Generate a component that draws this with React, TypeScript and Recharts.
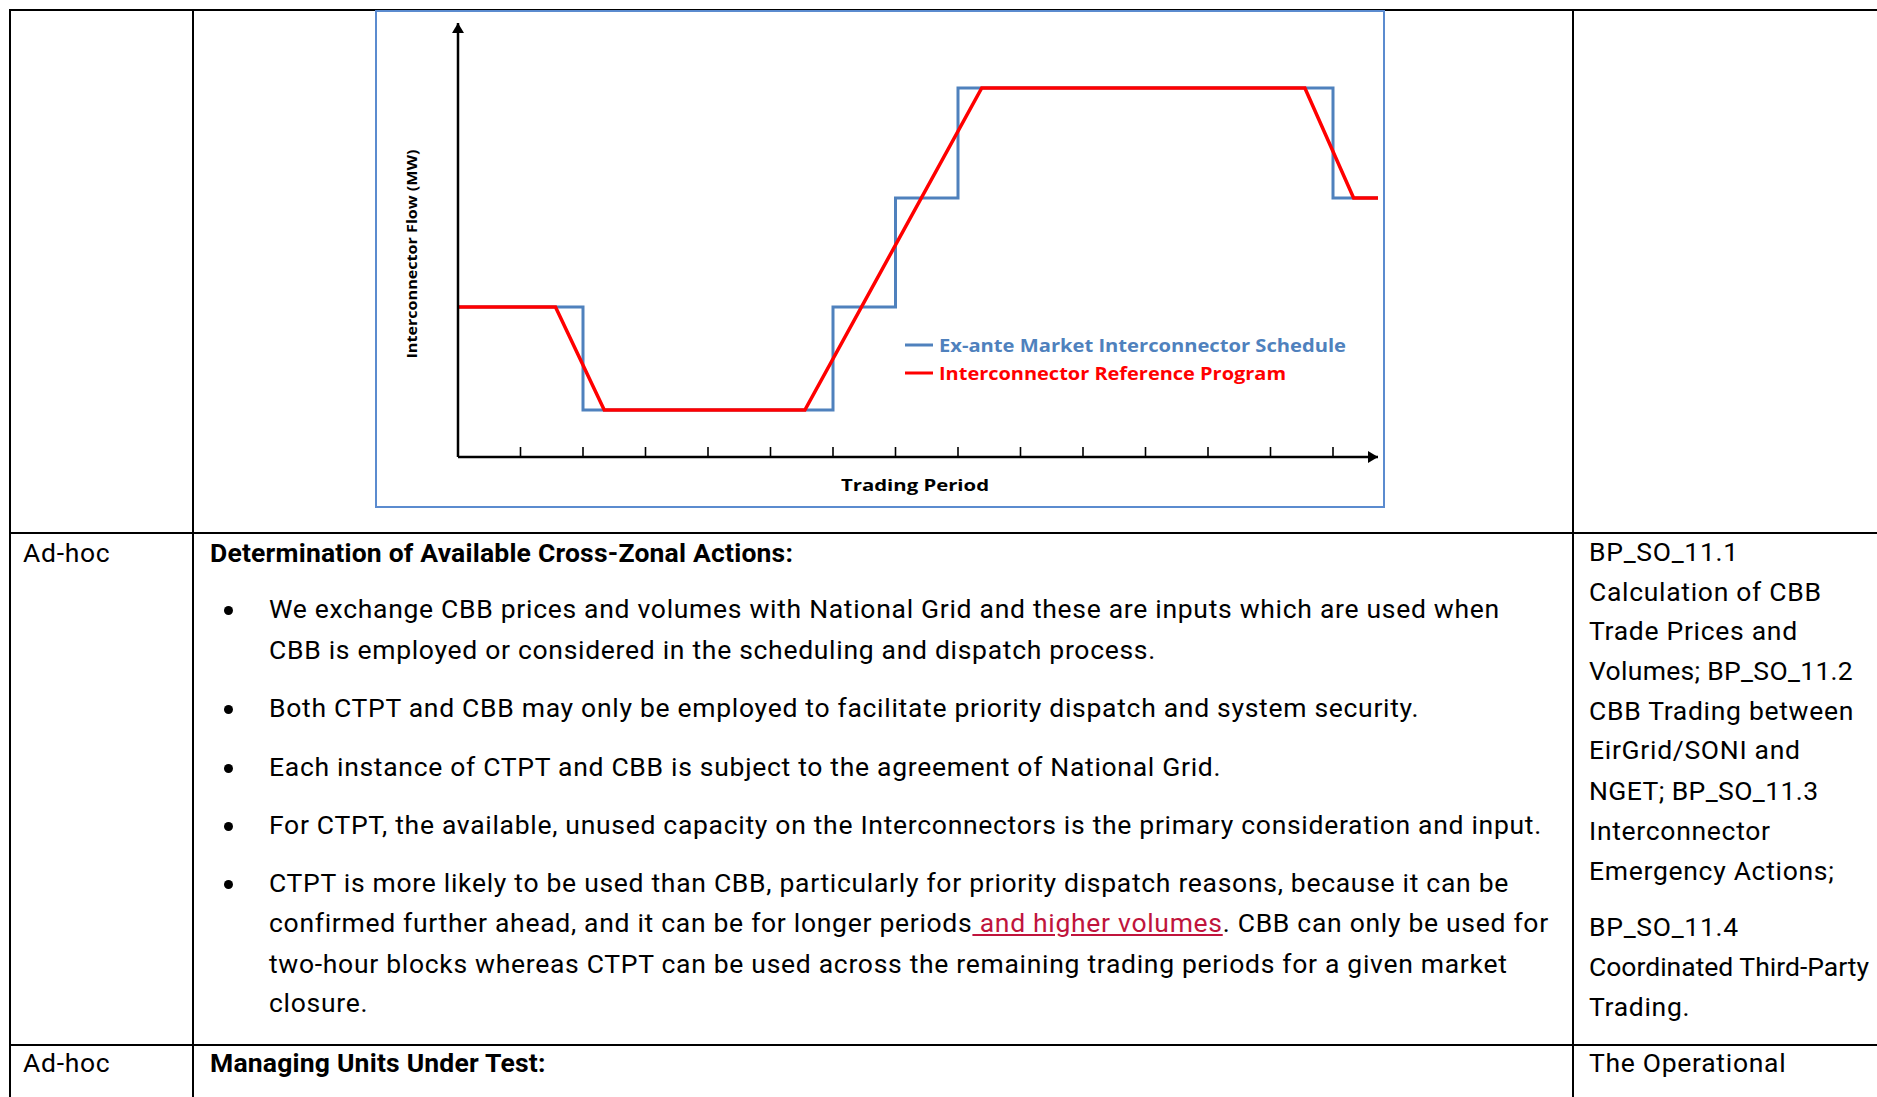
import React from "react";
import { LineChart, Line, XAxis, YAxis, Legend } from "recharts";

// trading period positions (in tick units) and flow levels
const scheduleX = [0, 2, 6, 7, 8, 14, 14.72];
const scheduleMW = [150, 47, 150, 259, 369, 259, 259];
const referenceX = [0, 1.56, 2.34, 5.55, 8.38, 13.55, 14.33, 14.72];
const referenceMW = [150, 150, 47, 47, 369, 369, 259, 259];
const periodTicks = [1, 2, 3, 4, 5, 6, 7, 8, 9, 10, 11, 12, 13, 14];
const seriesNames = [
  "Ex-ante Market Interconnector Schedule",
  "Interconnector Reference Program",
];

const scheduleData = scheduleX.map((p, i) => ({ period: p, mw: scheduleMW[i] }));
const referenceData = referenceX.map((p, i) => ({ period: p, mw: referenceMW[i] }));

const chartFont = "'Open Sans', sans-serif";
const legendWidths = [407, 347];

const renderUpTick = (props: any) => {
  const { x, y } = props;
  return <line x1={x} x2={x} y1={y} y2={y - 10} stroke="#000" strokeWidth={1.6} />;
};

const renderXLabel = (props: any) => {
  const { x, y, width } = props.viewBox;
  return (
    <text
      x={x + width / 2 - 3}
      y={y + 28}
      textAnchor="middle"
      dominantBaseline="central"
      fontFamily={chartFont}
      fontWeight={700}
      fontSize={16}
      textLength={148}
      lengthAdjust="spacingAndGlyphs"
      fill="#000"
    >
      Trading Period
    </text>
  );
};

const renderYLabel = (props: any) => {
  const { x, y, height } = props.viewBox;
  const cx = x + 34;
  const cy = y + height / 2 + 14;
  return (
    <text
      x={cx}
      y={cy}
      transform={`rotate(-90, ${cx}, ${cy})`}
      textAnchor="middle"
      dominantBaseline="central"
      fontFamily={chartFont}
      fontWeight={700}
      fontSize={15}
      textLength={209}
      lengthAdjust="spacingAndGlyphs"
      fill="#000"
    >
      Interconnector Flow (MW)
    </text>
  );
};

const renderLegend = (props: any) => {
  const payload = props.payload || [];
  return (
    <svg width={480} height={64} style={{ display: "block" }}>
      {payload.map((entry: any, i: number) => (
        <g key={entry.value}>
          <line x1={8} x2={36} y1={11 + i * 28} y2={11 + i * 28} stroke={entry.color} strokeWidth={3} />
          <text
            x={42}
            y={11 + i * 28}
            dominantBaseline="central"
            fontFamily={chartFont}
            fontWeight={700}
            fontSize={17}
            textLength={legendWidths[i]}
            lengthAdjust="spacingAndGlyphs"
            fill={entry.color}
          >
            {entry.value}
          </text>
        </g>
      ))}
    </svg>
  );
};

function FlowChart() {
  return (
    <div
      style={{
        position: "absolute",
        left: 375,
        top: 10,
        width: 1010,
        height: 498,
        boxSizing: "border-box",
        border: "2px solid #5b8bcf",
        background: "#fff",
      }}
    >
      <LineChart width={1006} height={494} margin={{ top: 11, right: 5, bottom: 0, left: 0 }}>
        <defs>
          <marker
            id="axisArrow"
            viewBox="0 0 10 12"
            refX={10}
            refY={6}
            markerWidth={10}
            markerHeight={12}
            markerUnits="userSpaceOnUse"
            orient="auto-start-reverse"
          >
            <path d="M0,0 L10,6 L0,12 z" fill="#000" />
          </marker>
        </defs>
        <XAxis
          dataKey="period"
          type="number"
          domain={[0, 14.72]}
          ticks={periodTicks}
          interval={0}
          tickLine={false}
          tickSize={0}
          tickMargin={0}
          tick={renderUpTick}
          height={49}
          axisLine={{ stroke: "#000", strokeWidth: 2.5, markerEnd: "url(#axisArrow)" }}
          label={renderXLabel}
        />
        <YAxis
          type="number"
          domain={[0, 434]}
          tick={false}
          tickLine={false}
          width={81}
          axisLine={{ stroke: "#000", strokeWidth: 2.5, markerStart: "url(#axisArrow)" }}
          label={renderYLabel}
        />
        <Legend
          layout="vertical"
          align="center"
          verticalAlign="middle"
          wrapperStyle={{ left: 520, top: 322, width: 480, height: 64 }}
          content={renderLegend}
        />
        <Line
          data={scheduleData}
          dataKey="mw"
          name={seriesNames[0]}
          type="stepAfter"
          stroke="#4f81bd"
          strokeWidth={3}
          dot={false}
          activeDot={false}
          isAnimationActive={false}
        />
        <Line
          data={referenceData}
          dataKey="mw"
          name={seriesNames[1]}
          type="linear"
          stroke="#ff0000"
          strokeWidth={3.5}
          dot={false}
          activeDot={false}
          isAnimationActive={false}
        />
      </LineChart>
    </div>
  );
}

const textFont = "Roboto, 'Liberation Sans', sans-serif";
const FS = 26.5;
const LH = 36;

function TextLine({
  x,
  cy,
  children,
  bold,
  spacing,
}: {
  x: number;
  cy: number;
  children: React.ReactNode;
  bold?: boolean;
  spacing?: number;
}) {
  return (
    <div
      style={{
        position: "absolute",
        left: x,
        top: cy - LH / 2,
        height: LH,
        lineHeight: `${LH}px`,
        fontSize: FS,
        fontWeight: bold ? 700 : 400,
        letterSpacing: spacing ?? (bold ? 0.2 : 0.7),
        whiteSpace: "nowrap",
        color: "#000",
      }}
    >
      {children}
    </div>
  );
}

function Bullet({ cy }: { cy: number }) {
  return (
    <div
      style={{
        position: "absolute",
        left: 223.5,
        top: cy - 4.5,
        width: 9,
        height: 9,
        borderRadius: "50%",
        background: "#000",
      }}
    />
  );
}

function Rule({ x, y, w, h }: { x: number; y: number; w: number; h: number }) {
  return <div style={{ position: "absolute", left: x, top: y, width: w, height: h, background: "#000" }} />;
}

export default function App() {
  return (
    <div
      style={{
        position: "absolute",
        left: 0,
        top: 0,
        width: 1877,
        height: 1097,
        overflow: "hidden",
        background: "#fff",
        fontFamily: textFont,
      }}
    >
      {/* table rules */}
      <Rule x={9} y={9} w={1868} h={2} />
      <Rule x={9} y={532} w={1868} h={2} />
      <Rule x={9} y={1044} w={1868} h={2} />
      <Rule x={9} y={9} w={2} h={1088} />
      <Rule x={192} y={9} w={2} h={1088} />
      <Rule x={1572} y={9} w={2} h={1088} />

      <FlowChart />

      {/* first column */}
      <TextLine x={23} cy={553}>Ad-hoc</TextLine>
      <TextLine x={23} cy={1063}>Ad-hoc</TextLine>

      {/* second column */}
      <TextLine x={210} cy={553} bold>Determination of Available Cross-Zonal Actions:</TextLine>
      <Bullet cy={610} />
      <TextLine x={269} cy={609}>We exchange CBB prices and volumes with National Grid and these are inputs which are used when</TextLine>
      <TextLine x={269} cy={650}>CBB is employed or considered in the scheduling and dispatch process.</TextLine>
      <Bullet cy={709} />
      <TextLine x={269} cy={708}>Both CTPT and CBB may only be employed to facilitate priority dispatch and system security.</TextLine>
      <Bullet cy={768} />
      <TextLine x={269} cy={767}>Each instance of CTPT and CBB is subject to the agreement of National Grid.</TextLine>
      <Bullet cy={826} />
      <TextLine x={269} cy={825}>For CTPT, the available, unused capacity on the Interconnectors is the primary consideration and input.</TextLine>
      <Bullet cy={884} />
      <TextLine x={269} cy={883}>CTPT is more likely to be used than CBB, particularly for priority dispatch reasons, because it can be</TextLine>
      <TextLine x={269} cy={923}>
        confirmed further ahead, and it can be for longer periods
        <span style={{ color: "#c0143c", textDecoration: "underline" }}> and higher volumes</span>. CBB can only be used for
      </TextLine>
      <TextLine x={269} cy={964}>two-hour blocks whereas CTPT can be used across the remaining trading periods for a given market</TextLine>
      <TextLine x={269} cy={1003}>closure.</TextLine>
      <TextLine x={210} cy={1063} bold>Managing Units Under Test:</TextLine>

      {/* third column */}
      <TextLine x={1589} cy={552}>BP_SO_11.1</TextLine>
      <TextLine x={1589} cy={592}>Calculation of CBB</TextLine>
      <TextLine x={1589} cy={631}>Trade Prices and</TextLine>
      <TextLine x={1589} cy={671} spacing={0.3}>Volumes; BP_SO_11.2</TextLine>
      <TextLine x={1589} cy={711}>CBB Trading between</TextLine>
      <TextLine x={1589} cy={750}>EirGrid/SONI and</TextLine>
      <TextLine x={1589} cy={791} spacing={0.4}>NGET; BP_SO_11.3</TextLine>
      <TextLine x={1589} cy={831}>Interconnector</TextLine>
      <TextLine x={1589} cy={871}>Emergency Actions;</TextLine>
      <TextLine x={1589} cy={927}>BP_SO_11.4</TextLine>
      <TextLine x={1589} cy={967} spacing={0}>Coordinated Third-Party</TextLine>
      <TextLine x={1589} cy={1007}>Trading.</TextLine>
      <TextLine x={1589} cy={1063}>The Operational</TextLine>
    </div>
  );
}
